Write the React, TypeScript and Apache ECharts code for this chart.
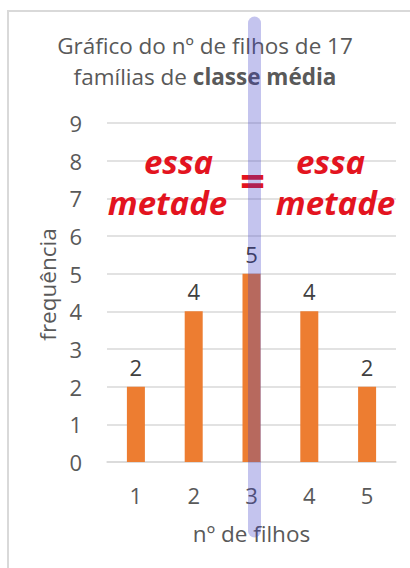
import React, { useEffect, useRef } from "react";
import * as echarts from "echarts";

const categories = ["1", "2", "3", "4", "5"];
const frequencies = [2, 4, 5, 4, 2];
const yTicks = { min: 0, max: 9, interval: 1 };
const titleLine1 = "Gráfico do nº de filhos de 17";
const titleLine2Plain = "famílias de ";
const titleLine2Bold = "classe média";
const xName = "nº de filhos";
const yName = "frequência";
const noteWord1 = "essa";
const noteWord2 = "metade";
const medianCategory = "3";

const FONT = "'Open Sans', Lato, sans-serif";
const GRAY = "#595959";
const RED = "#E3141F";
const FS = 22;
const TFS = 22.5;

export default function App() {
  const ref = useRef<HTMLDivElement>(null);
  useEffect(() => {
    if (!ref.current) return;
    const chart = echarts.init(ref.current, null, { renderer: "svg" });
    const option: any = {
      animation: false,
      backgroundColor: "#ffffff",
      textStyle: { fontFamily: FONT },
      title: {
        text: `${titleLine1}\n${titleLine2Plain}{b|${titleLine2Bold}}`,
        left: "center",
        top: 25,
        textStyle: {
          fontFamily: FONT,
          fontSize: TFS,
          fontWeight: "normal",
          color: GRAY,
          lineHeight: 31,
          rich: {
            b: { fontFamily: FONT, fontSize: TFS, fontWeight: "bold", color: GRAY, lineHeight: 31 },
          },
        },
      },
      grid: { left: 107, right: 14, top: 123, bottom: 106 },
      xAxis: {
        type: "category",
        data: categories,
        name: xName,
        nameLocation: "middle",
        nameGap: 60,
        nameTextStyle: { fontFamily: FONT, fontSize: TFS, color: GRAY },
        axisLine: { lineStyle: { color: "#d9d9d9", width: 1.5 } },
        axisTick: { show: false },
        axisLabel: { fontFamily: FONT, fontSize: FS, color: GRAY, margin: 22 },
      },
      yAxis: {
        type: "value",
        min: yTicks.min,
        max: yTicks.max,
        interval: yTicks.interval,
        name: yName,
        nameLocation: "middle",
        nameGap: 47,
        nameTextStyle: { fontFamily: FONT, fontSize: TFS, color: GRAY, padding: [0, 0, 0, 16] },
        axisLine: { show: false },
        axisTick: { show: false },
        axisLabel: { fontFamily: FONT, fontSize: FS, color: GRAY, margin: 25 },
        splitLine: { lineStyle: { color: "#d9d9d9", width: 1.5 } },
      },
      series: [
        {
          type: "bar",
          data: frequencies,
          barWidth: 18,
          itemStyle: { color: "#ED7D31" },
          label: {
            show: true,
            position: "top",
            distance: 9,
            fontFamily: FONT,
            fontSize: FS,
            color: "#404040",
          },
        },
      ],
    };
    chart.setOption(option);
    const mx = (chart.convertToPixel({ xAxisIndex: 0 }, medianCategory) as number) + 3;
    const noteStyle = {
      fontFamily: FONT,
      fontSize: 33,
      fontWeight: "bold",
      fontStyle: "italic",
      fill: RED,
      align: "center",
      verticalAlign: "middle",
    };
    chart.setOption({
      graphic: [
        {
          type: "polyline",
          shape: { points: [[8, 568], [8, 11], [420, 11]] },
          style: { stroke: "#d9d9d9", lineWidth: 2, fill: null },
          silent: true,
        },
        { type: "text", x: mx - 76, y: 161, style: { ...noteStyle, text: noteWord1 } },
        { type: "text", x: mx - 87, y: 202, style: { ...noteStyle, text: noteWord2 } },
        { type: "text", x: mx + 76, y: 161, style: { ...noteStyle, text: noteWord1 } },
        { type: "text", x: mx + 81, y: 202, style: { ...noteStyle, text: noteWord2 } },
        {
          type: "text",
          x: mx - 2,
          y: 180,
          style: { text: "=", fontFamily: FONT, fontSize: 44, fontWeight: "bold", fill: RED, align: "center", verticalAlign: "middle" },
        },
        {
          type: "line",
          shape: { x1: mx, y1: 23, x2: mx, y2: 531 },
          style: { stroke: "rgba(60,60,200,0.3)", lineWidth: 13, lineCap: "round" },
          silent: true,
          z: 100,
        },
      ],
    });
    return () => chart.dispose();
  }, []);
  return <div ref={ref} style={{ width: 410, height: 568, position: "absolute", left: 0, top: 0 }} />;
}
